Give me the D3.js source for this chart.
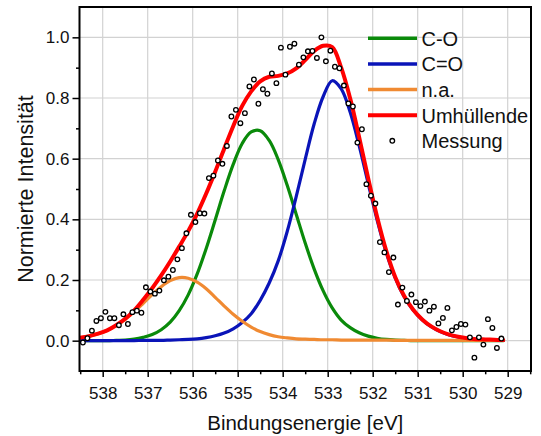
<!DOCTYPE html>
<html>
<head>
<meta charset="utf-8">
<script src="https://cdn.jsdelivr.net/npm/d3@7"></script>
<style>
  body { margin: 0; background: #fff; }
  svg { display: block; }
  text { font-family: "Liberation Sans", Arial, Helvetica, sans-serif; fill: #111; }
</style>
</head>
<body>
<svg id="chart" width="541" height="436"></svg>
<script>
// O 1s fit: energy grid shared by the fitted components and the envelope
const fitEnergy = [538.5, 538.3, 538.1, 537.9, 537.7, 537.5, 537.3, 537.1, 536.9, 536.7,
  536.5, 536.3, 536.1, 535.9, 535.7, 535.5, 535.3, 535.1, 534.9, 534.7,
  534.5, 534.3, 534.1, 533.9, 533.7, 533.5, 533.3, 533.1, 532.9, 532.7,
  532.5, 532.3, 532.1, 531.9, 531.7, 531.5, 531.3, 531.1, 530.9, 530.7,
  530.5, 530.3, 530.1, 529.9, 529.7, 529.5, 529.3, 529.1];

// C-O component
const fitCO = [0, 0, 0, 0, 0.001, 0.002, 0.005, 0.011, 0.020, 0.036,
  0.061, 0.099, 0.151, 0.220, 0.304, 0.398, 0.494, 0.581, 0.650, 0.688,
  0.692, 0.660, 0.597, 0.512, 0.417, 0.322, 0.236, 0.164, 0.108, 0.068,
  0.043, 0.026, 0.015, 0.008, 0.004, 0.002, 0.001, 0, 0, 0,
  0, 0, 0, 0, 0, 0, 0, 0];

// C=O component
const fitCdO = [0, 0, 0, 0, 0, 0, 0, 0.001, 0.001, 0.001,
  0.002, 0.003, 0.004, 0.006, 0.010, 0.016, 0.025, 0.039, 0.060, 0.089,
  0.133, 0.190, 0.263, 0.360, 0.475, 0.598, 0.715, 0.805, 0.857, 0.830,
  0.753, 0.642, 0.518, 0.397, 0.291, 0.207, 0.145, 0.101, 0.069, 0.046,
  0.030, 0.019, 0.012, 0.007, 0.004, 0.003, 0.002, 0.001];

// n.a. component
const fitNA = [0.010, 0.015, 0.023, 0.034, 0.050, 0.070, 0.095, 0.123, 0.152, 0.178,
  0.198, 0.208, 0.206, 0.193, 0.171, 0.143, 0.114, 0.087, 0.064, 0.045,
  0.030, 0.020, 0.013, 0.009, 0.006, 0.005, 0.004, 0.003, 0.003, 0.002,
  0.002, 0.002, 0.002, 0.002, 0.002, 0.001, 0.001, 0.001, 0.001, 0.001,
  0.001, 0.001, 0.001, 0.001, 0.001, 0.001, 0.001, 0.001];

// envelope (sum of the three components)
const fitEnvelope = [0.010, 0.015, 0.023, 0.034, 0.051, 0.072, 0.100, 0.135, 0.173, 0.215,
  0.261, 0.310, 0.361, 0.419, 0.485, 0.557, 0.633, 0.707, 0.774, 0.822,
  0.855, 0.870, 0.873, 0.881, 0.898, 0.925, 0.955, 0.972, 0.968, 0.900,
  0.798, 0.670, 0.535, 0.407, 0.297, 0.210, 0.147, 0.102, 0.070, 0.047,
  0.031, 0.020, 0.013, 0.008, 0.005, 0.004, 0.003, 0.002];

// measured spectrum
const measEnergy = [538.44, 538.34, 538.24, 538.14, 538.04, 537.94, 537.84, 537.74, 537.64, 537.54,
  537.44, 537.34, 537.24, 537.14, 537.04, 536.94, 536.84, 536.74, 536.64, 536.54,
  536.44, 536.34, 536.24, 536.14, 536.04, 535.94, 535.84, 535.74, 535.64, 535.54,
  535.44, 535.34, 535.24, 535.14, 535.04, 534.94, 534.84, 534.74, 534.64, 534.54,
  534.44, 534.34, 534.24, 534.14, 534.04, 533.94, 533.84, 533.74, 533.64, 533.54,
  533.44, 533.34, 533.24, 533.14, 533.04, 532.94, 532.84, 532.74, 532.64, 532.54,
  532.44, 532.34, 532.24, 532.14, 532.04, 531.94, 531.84, 531.74, 531.64, 531.54,
  531.44, 531.34, 531.24, 531.14, 531.04, 530.94, 530.84, 530.74, 530.64, 530.54,
  530.44, 530.34, 530.24, 530.14, 530.04, 529.94, 529.84, 529.74, 529.64, 529.54,
  529.44, 529.34, 529.24, 529.14];
const measIntensity = [-0.006, 0.008, 0.033, 0.065, 0.074, 0.095, 0.074, 0.074, 0.051, 0.087,
  0.055, 0.094, 0.099, 0.092, 0.176, 0.162, 0.155, 0.165, 0.199, 0.211,
  0.233, 0.268, 0.305, 0.354, 0.415, 0.391, 0.420, 0.419, 0.536, 0.544,
  0.594, 0.583, 0.642, 0.739, 0.761, 0.717, 0.750, 0.838, 0.861, 0.781,
  0.829, 0.814, 0.881, 0.849, 0.966, 0.877, 0.969, 0.979, 0.910, 0.934,
  0.954, 0.955, 0.932, 1.000, 0.921, 0.956, 0.903, 0.898, 0.841, 0.782,
  0.772, 0.653, 0.697, 0.516, 0.478, 0.452, 0.325, 0.291, 0.226, 0.274,
  0.119, 0.175, 0.131, 0.152, 0.127, 0.114, 0.129, 0.099, 0.112, 0.057,
  0.075, 0.108, 0.034, 0.045, 0.055, 0.053, 0.011, -0.056, 0.011, -0.013,
  0.071, 0.042, -0.024, 0.007];

// axis ticks
const xTicks = [538, 537, 536, 535, 534, 533, 532, 531, 530, 529];
const xMinorTicks = [538.5, 537.5, 536.5, 535.5, 534.5, 533.5, 532.5, 531.5, 530.5, 529.5, 528.5];
const yTicks = [0.0, 0.2, 0.4, 0.6, 0.8, 1.0];
const yMinorTicks = [0.1, 0.3, 0.5, 0.7, 0.9];

const seriesNames = ["C-O", "C=O", "n.a.", "Umhüllende", "Messung"];
const seriesColors = ["#0a8a0a", "#0a14b8", "#f08a32", "#ff0000"];

const xTitle = "Bindungsenergie [eV]";
const yTitle = "Normierte Intensität";

// ---- layout ----
const frame = { left: 79.5, right: 531, top: 7, bottom: 371 };
const svg = d3.select("#chart");
svg.append("rect").attr("width", 541).attr("height", 436).attr("fill", "#fff");

const x = d3.scaleLinear().domain([538.5, 528.5]).range([80.2, 530.2]);
const y = d3.scaleLinear().domain([-0.1, 1.1]).range([371, 7]);

svg.append("clipPath").attr("id", "plotClip")
  .append("rect")
  .attr("x", frame.left).attr("y", frame.top)
  .attr("width", frame.right - frame.left).attr("height", frame.bottom - frame.top);

// grid
const grid = svg.append("g").attr("stroke", "#d2d2d2").attr("stroke-width", 1.2);
grid.selectAll("line.gx").data(xTicks).join("line")
  .attr("x1", d => x(d)).attr("x2", d => x(d))
  .attr("y1", frame.top).attr("y2", frame.bottom);
grid.selectAll("line.gy").data(yTicks).join("line")
  .attr("x1", frame.left).attr("x2", frame.right)
  .attr("y1", d => y(d)).attr("y2", d => y(d));

// fitted curves
const plotArea = svg.append("g").attr("clip-path", "url(#plotClip)");
const fitSeries = [fitCO, fitCdO, fitNA, fitEnvelope];
const widths = [3.2, 3.2, 3.2, 4];
const line = d3.line()
  .x(d => x(d[0]))
  .y(d => y(d[1]))
  .curve(d3.curveCatmullRom.alpha(0.5));

fitSeries.forEach((vals, i) => {
  plotArea.append("path")
    .datum(fitEnergy.map((e, k) => [e, vals[k]]))
    .attr("fill", "none")
    .attr("stroke", seriesColors[i])
    .attr("stroke-width", widths[i])
    .attr("stroke-linejoin", "round")
    .attr("stroke-linecap", "round")
    .attr("d", line);
});

// measured points
plotArea.selectAll("circle.meas")
  .data(measEnergy.map((e, k) => [e, measIntensity[k]]))
  .join("circle")
  .attr("class", "meas")
  .attr("cx", d => x(d[0]))
  .attr("cy", d => y(d[1]))
  .attr("r", 2.3)
  .attr("fill", "#fff")
  .attr("stroke", "#000")
  .attr("stroke-width", 1.3);

// axes
const xAxis = svg.append("g").attr("transform", `translate(0,${frame.bottom})`)
  .call(d3.axisBottom(x).tickValues(xTicks).tickFormat(d3.format("d"))
    .tickSizeInner(6).tickSizeOuter(0).tickPadding(9.5));
const xMinor = svg.append("g").attr("transform", `translate(0,${frame.bottom})`)
  .call(d3.axisBottom(x).tickValues(xMinorTicks).tickFormat("")
    .tickSizeInner(3.3).tickSizeOuter(0));
const yAxis = svg.append("g").attr("transform", `translate(${frame.left},0)`)
  .call(d3.axisLeft(y).tickValues(yTicks).tickFormat(d3.format(".1f"))
    .tickSizeInner(7).tickSizeOuter(0).tickPadding(3));
const yMinor = svg.append("g").attr("transform", `translate(${frame.left},0)`)
  .call(d3.axisLeft(y).tickValues(yMinorTicks).tickFormat("")
    .tickSizeInner(3.5).tickSizeOuter(0));

[xAxis, xMinor, yAxis, yMinor].forEach(g => {
  g.select(".domain").remove();
  g.selectAll(".tick line").attr("stroke", "#000").attr("stroke-width", 1.5);
  g.selectAll(".tick text").attr("font-size", 17).attr("fill", "#111")
    .style("font-family", '"Liberation Sans", Arial, sans-serif');
});

// frame
svg.append("rect")
  .attr("x", frame.left).attr("y", frame.top)
  .attr("width", frame.right - frame.left).attr("height", frame.bottom - frame.top)
  .attr("fill", "none").attr("stroke", "#000").attr("stroke-width", 2);

// axis titles
svg.append("text")
  .attr("x", (frame.left + frame.right) / 2).attr("y", 430)
  .attr("text-anchor", "middle").attr("font-size", 20.5)
  .text(xTitle);
svg.append("text")
  .attr("transform", `translate(33,${(frame.top + frame.bottom) / 2}) rotate(-90)`)
  .attr("text-anchor", "middle").attr("font-size", 21.5)
  .text(yTitle);

// legend
const legend = svg.append("g");
const rowY = [38.3, 64, 89.5, 115.2, 140.8];
seriesNames.forEach((name, i) => {
  if (i < 4) {
    legend.append("line")
      .attr("x1", 368).attr("x2", 417)
      .attr("y1", rowY[i]).attr("y2", rowY[i])
      .attr("stroke", seriesColors[i]).attr("stroke-width", i === 3 ? 4 : 3.5);
  } else {
    legend.append("circle")
      .attr("cx", 392.3).attr("cy", rowY[i]).attr("r", 2.3)
      .attr("fill", "#fff").attr("stroke", "#000").attr("stroke-width", 1.3);
  }
  legend.append("text")
    .attr("x", 421.5).attr("y", rowY[i] + 7.4)
    .attr("font-size", 20)
    .text(name);
});
</script>
</body>
</html>
